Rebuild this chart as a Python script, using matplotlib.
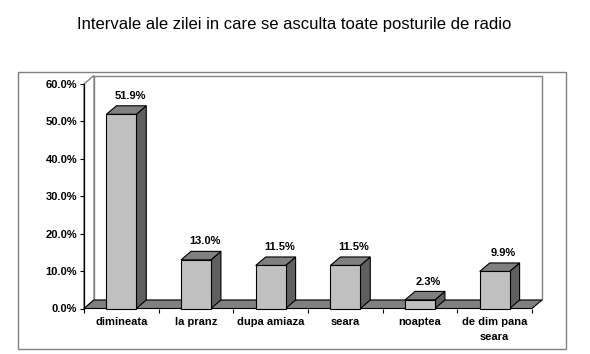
import matplotlib
matplotlib.use("Agg")
import matplotlib.pyplot as plt
from matplotlib.patches import Polygon, Rectangle
import numpy as np

categories = ["dimineata", "la pranz", "dupa amiaza", "seara", "noaptea", "de dim pana\nseara"]
values = [51.9, 13.0, 11.5, 11.5, 2.3, 9.9]
yticks = [0, 10, 20, 30, 40, 50, 60]
title = "Intervale ale zilei in care se asculta toate posturile de radio"

W, H = 590, 354
fig = plt.figure(figsize=(W / 100, H / 100), dpi=100)
fig.patch.set_facecolor("white")
plt.rcParams["font.family"] = ["Liberation Sans", "DejaVu Sans"]

# front plane of the plot area (pixels)
x0, x1 = 84, 532
y_top, y_bot = 84, 308.5
ax = fig.add_axes([x0 / W, (H - y_bot) / H, (x1 - x0) / W, (y_bot - y_top) / H])
n = len(categories)
ax.set_xlim(-0.5, n - 0.5)
ax.set_ylim(0, 60)
ax.set_facecolor("none")

DX = 10 / (x1 - x0) * n
DY = 8.5 / (y_bot - y_top) * 60
wall = "#808080"

# back wall
ax.add_patch(Polygon([(-0.5 + DX, DY), (n - 0.5 + DX, DY), (n - 0.5 + DX, 60 + DY), (-0.5 + DX, 60 + DY)],
                     closed=True, facecolor="white", edgecolor=wall, lw=1, clip_on=False, zorder=1))
# left wall
ax.add_patch(Polygon([(-0.5, 0), (-0.5 + DX, DY), (-0.5 + DX, 60 + DY), (-0.5, 60)],
                     closed=True, facecolor="white", edgecolor=wall, lw=1, clip_on=False, zorder=1))
# floor
ax.add_patch(Polygon([(-0.5, 0), (n - 0.5, 0), (n - 0.5 + DX, DY), (-0.5 + DX, DY)],
                     closed=True, facecolor="#808080", edgecolor="black", lw=0.8, clip_on=False, zorder=2))

w = 0.4
for i, v in enumerate(values):
    l, r = i - w / 2, i + w / 2
    front = [(l, 0), (r, 0), (r, v), (l, v)]
    side = [(r, 0), (r + DX, DY), (r + DX, v + DY), (r, v)]
    top = [(l, v), (r, v), (r + DX, v + DY), (l + DX, v + DY)]
    ax.add_patch(Polygon(side, closed=True, facecolor="#5f5f5f", edgecolor="black", lw=0.8, clip_on=False, zorder=3))
    ax.add_patch(Polygon(top, closed=True, facecolor="#808080", edgecolor="black", lw=0.8, clip_on=False, zorder=3))
    ax.add_patch(Polygon(front, closed=True, facecolor="#c0c0c0", edgecolor="black", lw=0.8, clip_on=False, zorder=3))
    ax.text(i + DX * 0.85, v + DY + 1.3, f"{v:.1f}%", ha="center", va="bottom",
            fontsize=8, fontweight="bold", zorder=4)

for s in ["top", "right", "bottom"]:
    ax.spines[s].set_visible(False)
ax.spines["left"].set_color("black")
ax.spines["left"].set_linewidth(0.9)
ax.spines["left"].set_zorder(5)

ax.set_yticks(yticks)
ax.set_yticklabels([f"{t:.1f}%" for t in yticks], fontsize=8, fontweight="bold")
ax.tick_params(axis="y", direction="out", length=3, width=0.8, pad=2)

ax.set_xticks(np.arange(n))
ax.set_xticklabels(categories, fontsize=8, fontweight="bold", linespacing=1.6)
ax.tick_params(axis="x", which="major", length=0, pad=6)
ax.set_xticks(np.arange(n + 1) - 0.5, minor=True)
ax.tick_params(axis="x", which="minor", direction="out", length=3, width=0.8)
for lbl in ax.get_xticklabels():
    lbl.set_verticalalignment("top")

# outer chart border
fig.add_artist(Rectangle((18 / W, (H - 349) / H), (566 - 18) / W, (349 - 72) / H,
                         transform=fig.transFigure, fill=False, edgecolor="#808080", lw=1))

fig.text(294 / W, 1 - 25 / H, title, ha="center", va="center", fontsize=12)

fig.savefig("out.png", dpi=100)
